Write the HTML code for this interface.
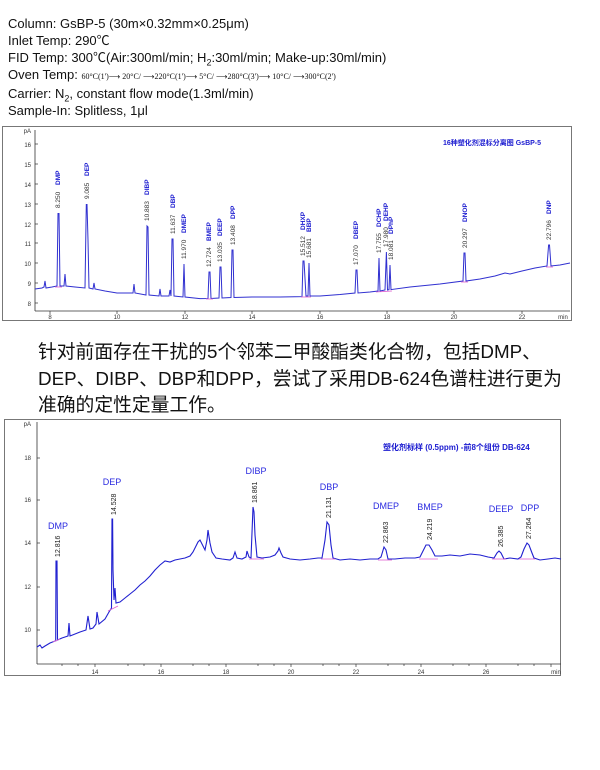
<!DOCTYPE html>
<html><head><meta charset="utf-8">
<style>
body{margin:0;background:#fff;width:600px;height:770px;overflow:hidden;position:relative;font-family:"Liberation Sans","Noto Sans CJK SC",sans-serif}
.info{position:absolute;left:8px;top:15px;font-size:13px;line-height:17px;color:#111}
.cn{position:absolute;left:38px;top:339px;font-size:18.8px;line-height:26.5px;color:#111;font-family:"Liberation Sans","Noto Sans CJK SC",sans-serif}
svg{position:absolute;left:0;top:0}
.small{font-size:8px;font-family:"Liberation Serif",serif}
</style></head><body>
<div class="info">
Column: GsBP-5 (30m×0.32mm×0.25μm)<br>
Inlet Temp: 290℃<br>
FID Temp: 300℃(Air:300ml/min; H<sub style="font-size:9px;line-height:0">2</sub>:30ml/min; Make-up:30ml/min)<br>
Oven Temp: <span class="small">60°C(1')⟶ 20°C/ ⟶220°C(1')⟶ 5°C/ ⟶280°C(3')⟶ 10°C/ ⟶300°C(2')</span><br>
Carrier: N<sub style="font-size:9px;line-height:0">2</sub>, constant flow mode(1.3ml/min)<br>
Sample-In: Splitless, 1μl
</div>
<div class="cn">针对前面存在干扰的5个邻苯二甲酸酯类化合物，包括DMP、<br>DEP、DIBP、DBP和DPP，尝试了采用DB-624色谱柱进行更为<br>准确的定性定量工作。</div>
<svg width="600" height="770" viewBox="0 0 600 770" font-family="Liberation Sans, Noto Sans CJK SC, sans-serif">
<!-- chart 1 -->
<rect x="2.5" y="126.5" width="569" height="194" fill="none" stroke="#777" stroke-width="1"/>
<line x1="35" y1="130" x2="35" y2="311" stroke="#333" stroke-width="0.8"/>
<line x1="35" y1="311" x2="570" y2="311" stroke="#333" stroke-width="0.8"/>
<g font-size="6" fill="#333" text-anchor="end">
<text x="31" y="133">pA</text>
<text x="31" y="147">16</text><text x="31" y="167">15</text><text x="31" y="187">14</text><text x="31" y="207">13</text>
<text x="31" y="227">12</text><text x="31" y="246">11</text><text x="31" y="266">10</text><text x="31" y="286">9</text><text x="31" y="306">8</text>
</g>
<g stroke="#333" stroke-width="0.7">
<line x1="35" y1="144" x2="38" y2="144"/><line x1="35" y1="164" x2="38" y2="164"/><line x1="35" y1="184" x2="38" y2="184"/><line x1="35" y1="204" x2="38" y2="204"/><line x1="35" y1="224" x2="38" y2="224"/><line x1="35" y1="243" x2="38" y2="243"/><line x1="35" y1="263" x2="38" y2="263"/><line x1="35" y1="283" x2="38" y2="283"/><line x1="35" y1="303" x2="38" y2="303"/>
<line x1="50" y1="311" x2="50" y2="314"/><line x1="117" y1="311" x2="117" y2="314"/><line x1="185" y1="311" x2="185" y2="314"/><line x1="252" y1="311" x2="252" y2="314"/><line x1="320" y1="311" x2="320" y2="314"/><line x1="387" y1="311" x2="387" y2="314"/><line x1="454" y1="311" x2="454" y2="314"/><line x1="522" y1="311" x2="522" y2="314"/>
</g>
<g font-size="6" fill="#333" text-anchor="middle">
<text x="50" y="319">8</text><text x="117" y="319">10</text><text x="185" y="319">12</text><text x="252" y="319">14</text><text x="320" y="319">16</text><text x="387" y="319">18</text><text x="454" y="319">20</text><text x="522" y="319">22</text><text x="563" y="319">min</text>
</g>
<text x="443" y="145" font-size="7" fill="#1a1ad0" font-weight="bold">16种塑化剂混标分离图 GsBP-5</text>
<path fill="none" stroke="#3030d0" stroke-width="1" d="M35,289 L42,288 L44,287 L45,281 L46,288 L52,287 L57,286 L58,213.5 L59,213.5 L60,286 L64,286 L65,274 L66,286 L75,287 L85,288 L86.3,204.5 L87,204.5 L88,240 L89,288 L93,289 L94,283 L95,289 L105,291 L117,293 L125,293 L133,293 L134,284 L135,293 L146,295 L147,226 L148,227 L149,295 L159,296 L160,289 L161,296 L169,296 L170,290 L171,296 L172,239 L173,239 L174,296 L183,297 L184,264 L185,297 L200,298.6 L208,298.5 L209,272 L210,272 L211,298.5 L219,298 L220,267 L221,267 L222,298 L231,297.5 L232,250 L233,250 L234,297.5 L252,297 L280,297 L302,296.6 L303,261 L304,261 L306,296 L308,296 L309,263 L310,296 L320,296 L340,294.5 L355,293 L356,270 L357,270 L358,293 L370,292 L378,291 L379,258 L380,291 L385,290 L386.4,252 L387.5,290 L389,289.6 L390,265 L391,289.6 L410,287 L440,284 L463,281 L464,253 L465,253 L466,281 L480,279 L495,276 L505,273 L510,274 L522,271 L535,268 L547,266 L548.6,245 L549.5,245 L551,266 L560,265 L570,263"/>
<g stroke="#e060d0" stroke-width="0.8">
<line x1="55" y1="287" x2="62" y2="287"/><line x1="206" y1="299" x2="213" y2="299"/><line x1="301" y1="297" x2="311" y2="297"/><line x1="376" y1="292" x2="392" y2="291"/><line x1="461" y1="282" x2="468" y2="282"/><line x1="546" y1="267" x2="553" y2="267"/>
</g>
<g font-size="6.5">
<g transform="translate(60,208) rotate(-90)"><text fill="#333">8.250</text><text x="23" fill="#1a1ad0" font-weight="bold">DMP</text></g>
<g transform="translate(89,199) rotate(-90)"><text fill="#333">9.085</text><text x="23" fill="#1a1ad0" font-weight="bold">DEP</text></g>
<g transform="translate(149,221) rotate(-90)"><text fill="#333">10.883</text><text x="26" fill="#1a1ad0" font-weight="bold">DIBP</text></g>
<g transform="translate(175,234) rotate(-90)"><text fill="#333">11.637</text><text x="26" fill="#1a1ad0" font-weight="bold">DBP</text></g>
<g transform="translate(186,259) rotate(-90)"><text fill="#333">11.970</text><text x="26" fill="#1a1ad0" font-weight="bold">DMEP</text></g>
<g transform="translate(211,267) rotate(-90)"><text fill="#333">12.724</text><text x="26" fill="#1a1ad0" font-weight="bold">BMEP</text></g>
<g transform="translate(222,262) rotate(-90)"><text fill="#333">13.035</text><text x="26" fill="#1a1ad0" font-weight="bold">DEEP</text></g>
<g transform="translate(235,245) rotate(-90)"><text fill="#333">13.408</text><text x="26" fill="#1a1ad0" font-weight="bold">DPP</text></g>
<g transform="translate(305,256) rotate(-90)"><text fill="#333">15.512</text><text x="26" fill="#1a1ad0" font-weight="bold">DHXP</text></g>
<g transform="translate(311,258) rotate(-90)"><text fill="#333">15.681</text><text x="26" fill="#1a1ad0" font-weight="bold">BBP</text></g>
<g transform="translate(358,265) rotate(-90)"><text fill="#333">17.070</text><text x="26" fill="#1a1ad0" font-weight="bold">DBEP</text></g>
<g transform="translate(381,253) rotate(-90)"><text fill="#333">17.755</text><text x="26" fill="#1a1ad0" font-weight="bold">DCHP</text></g>
<g transform="translate(388,247) rotate(-90)"><text fill="#333">17.980</text><text x="26" fill="#1a1ad0" font-weight="bold">DEHP</text></g>
<g transform="translate(393,260) rotate(-90)"><text fill="#333">18.081</text><text x="26" fill="#1a1ad0" font-weight="bold">DPhP</text></g>
<g transform="translate(467,248) rotate(-90)"><text fill="#333">20.297</text><text x="26" fill="#1a1ad0" font-weight="bold">DNOP</text></g>
<g transform="translate(551,240) rotate(-90)"><text fill="#333">22.796</text><text x="26" fill="#1a1ad0" font-weight="bold">DNP</text></g>
</g>

<!-- chart 2 -->
<rect x="4.5" y="419.5" width="556" height="256" fill="none" stroke="#777" stroke-width="1"/>
<line x1="37" y1="422" x2="37" y2="664" stroke="#333" stroke-width="0.8"/>
<line x1="37" y1="664" x2="561" y2="664" stroke="#333" stroke-width="0.8"/>
<g font-size="6" fill="#333" text-anchor="end">
<text x="31" y="426">pA</text><text x="31" y="460">18</text><text x="31" y="502">16</text><text x="31" y="545">14</text><text x="31" y="589">12</text><text x="31" y="632">10</text>
</g>
<g stroke="#333" stroke-width="0.7">
<line x1="37" y1="458" x2="40" y2="458"/><line x1="37" y1="500" x2="40" y2="500"/><line x1="37" y1="543" x2="40" y2="543"/><line x1="37" y1="587" x2="40" y2="587"/><line x1="37" y1="630" x2="40" y2="630"/>
<line x1="95" y1="664" x2="95" y2="667"/><line x1="161" y1="664" x2="161" y2="667"/><line x1="226" y1="664" x2="226" y2="667"/><line x1="291" y1="664" x2="291" y2="667"/><line x1="356" y1="664" x2="356" y2="667"/><line x1="421" y1="664" x2="421" y2="667"/><line x1="486" y1="664" x2="486" y2="667"/><line x1="551" y1="664" x2="551" y2="667"/>
<line x1="62" y1="664" x2="62" y2="666"/><line x1="78" y1="664" x2="78" y2="666"/><line x1="128" y1="664" x2="128" y2="666"/><line x1="144" y1="664" x2="144" y2="666"/><line x1="193" y1="664" x2="193" y2="666"/><line x1="209" y1="664" x2="209" y2="666"/><line x1="258" y1="664" x2="258" y2="666"/><line x1="274" y1="664" x2="274" y2="666"/><line x1="323" y1="664" x2="323" y2="666"/><line x1="339" y1="664" x2="339" y2="666"/><line x1="388" y1="664" x2="388" y2="666"/><line x1="404" y1="664" x2="404" y2="666"/><line x1="453" y1="664" x2="453" y2="666"/><line x1="469" y1="664" x2="469" y2="666"/><line x1="518" y1="664" x2="518" y2="666"/><line x1="534" y1="664" x2="534" y2="666"/>
</g>
<g font-size="6" fill="#333" text-anchor="middle">
<text x="95" y="674">14</text><text x="161" y="674">16</text><text x="226" y="674">18</text><text x="291" y="674">20</text><text x="356" y="674">22</text><text x="421" y="674">24</text><text x="486" y="674">26</text><text x="556" y="674">min</text>
</g>
<text x="383" y="450" font-size="8" fill="#1a1ad0" font-weight="bold">塑化剂标样 (0.5ppm) -前8个组份 DB-624</text>
<path fill="none" stroke="#2020d0" stroke-width="1.1" d="M37,647 L40,645 L42,648 L45,646 L50,643 L55,641 L55.7,641 L56,561 L57,561 L57.5,640 L62,638 L68,636 L69,623 L70,636 L75,634 L80,632 L86,630 L88,616 L90,629 L93,628 L96,624 L97,612 L99,624 L105,619 L109,612 L111.5,608 L112,519 L112.6,519 L113,570 L114,600 L115,588 L116,603 L120,602 L125,598 L130,594 L135,590 L140,585 L145,581 L150,576 L155,570 L160,565 L165,561 L170,562 L175,560 L180,559 L185,558 L190,556 L193,552 L196,546 L198,542 L200,540 L202,544 L205,550 L207,540 L208,530 L210,543 L212,552 L216,558 L222,559 L230,560 L233,558 L235,552 L237,558 L242,559 L246,557 L247,551 L249,557 L251,558 L252.5,520 L253,507 L254,512 L255,535 L257,557 L262,558 L270,557 L275,555 L278,551 L279,548 L281,553 L283,557 L290,559 L300,560 L310,559 L318,558 L322,558 L325,540 L327,522 L329,525 L331,545 L333,558 L340,560 L350,559 L360,560 L370,559 L378,559 L381,557 L384,547 L386,550 L388,559 L395,559 L405,558 L415,558 L420,557 L423,551 L426,545 L429,545 L432,550 L435,556 L442,556 L450,555 L460,556 L470,554 L480,555 L488,557 L494,558 L497,553 L499,551 L501,553 L504,559 L510,558 L518,559 L521,557 L524,549 L527,543 L529,545 L532,553 L534,558 L540,560 L548,559 L555,558 L561,559"/>
<g stroke="#e060d0" stroke-width="0.8">
<line x1="53" y1="642" x2="60" y2="639"/><line x1="108" y1="611" x2="118" y2="606"/><line x1="249" y1="559" x2="264" y2="559"/><line x1="321" y1="559" x2="335" y2="559"/><line x1="378" y1="560" x2="392" y2="560"/><line x1="419" y1="559" x2="438" y2="559"/><line x1="492" y1="559" x2="506" y2="559"/><line x1="519" y1="559" x2="535" y2="559"/>
</g>
<g font-size="7">
<g transform="translate(60,557) rotate(-90)"><text fill="#222">12.816</text></g>
<g transform="translate(116,515) rotate(-90)"><text fill="#222">14.528</text></g>
<g transform="translate(257,503) rotate(-90)"><text fill="#222">18.861</text></g>
<g transform="translate(331,518) rotate(-90)"><text fill="#222">21.131</text></g>
<g transform="translate(388,543) rotate(-90)"><text fill="#222">22.863</text></g>
<g transform="translate(432,540) rotate(-90)"><text fill="#222">24.219</text></g>
<g transform="translate(503,547) rotate(-90)"><text fill="#222">26.385</text></g>
<g transform="translate(531,539) rotate(-90)"><text fill="#222">27.264</text></g>
</g>
<g font-size="9" fill="#2a2ae0" text-anchor="middle">
<text x="58" y="529">DMP</text><text x="112" y="485">DEP</text><text x="256" y="474">DIBP</text><text x="329" y="490">DBP</text><text x="386" y="509">DMEP</text><text x="430" y="510">BMEP</text><text x="501" y="512">DEEP</text><text x="530" y="511">DPP</text>
</g>
</svg>
</body></html>
